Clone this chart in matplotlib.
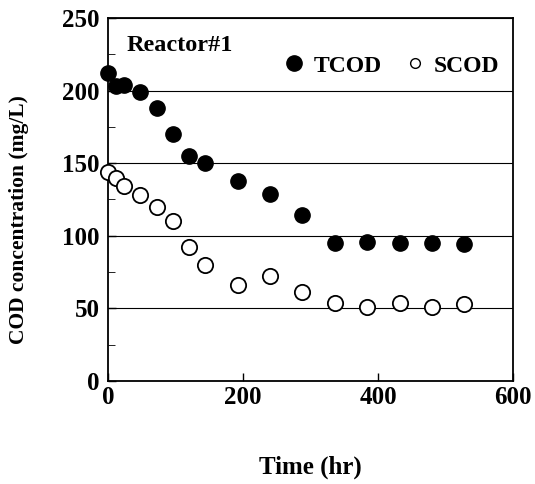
import matplotlib
matplotlib.use("Agg")
import matplotlib.pyplot as plt
from matplotlib.ticker import MultipleLocator

plt.rcParams['font.family'] = ['Liberation Serif', 'DejaVu Serif']
plt.rcParams['font.weight'] = 'bold'

# sampling times (hr)
time_hr = [0, 12, 24, 48, 72, 96, 120, 144, 192, 240, 288, 336, 384, 432, 480, 528]
# total COD (mg/L)
tcod = [212, 203, 204, 199, 188, 170, 155, 150, 138, 129, 114, 95, 96, 95, 95, 94]
# soluble COD (mg/L)
scod = [144, 140, 134, 128, 120, 110, 92, 80, 66, 72, 61, 54, 51, 54, 51, 53]

fig = plt.figure(figsize=(5.35, 4.84), dpi=100)
ax = fig.add_axes([0.202, 0.213, 0.757, 0.750])

ax.plot(time_hr, tcod, 'o', color='black', markersize=11, label='TCOD',
        zorder=3, clip_on=False)
ax.plot(time_hr, scod, 'o', markerfacecolor='white', markeredgecolor='black',
        markeredgewidth=1.3, markersize=11, label='SCOD', zorder=3, clip_on=False)

ax.set_xlim(0, 600)
ax.set_ylim(0, 250)
ax.xaxis.set_major_locator(MultipleLocator(200))
ax.yaxis.set_major_locator(MultipleLocator(50))
ax.yaxis.set_minor_locator(MultipleLocator(25))
ax.tick_params(direction='in', length=6, width=1, labelsize=18)
ax.tick_params(axis='y', which='minor', direction='in', length=5)
ax.tick_params(axis='x', pad=4)
ax.tick_params(axis='y', pad=6)
for lab in ax.get_xticklabels() + ax.get_yticklabels():
    lab.set_fontweight('bold')

ax.grid(axis='y', color='black', linewidth=0.8)
for s in ax.spines.values():
    s.set_linewidth(1.3)

ax.set_xlabel('Time (hr)', fontsize=18, fontweight='bold')
ax.set_ylabel('COD concentration (mg/L)', fontsize=15.5, fontweight='bold')
ax.xaxis.set_label_coords(0.5, -0.205)
ax.yaxis.set_label_coords(-0.195, 0.445)

ax.text(0.045, 0.925, 'Reactor#1', transform=ax.transAxes, fontsize=17.5,
        fontweight='bold', va='center', ha='left')

leg = ax.legend(loc='center right', bbox_to_anchor=(1.0, 0.868), ncol=2, frameon=False,
                fontsize=17, handletextpad=0.35, columnspacing=0.95,
                borderaxespad=0.2, handlelength=0.9)
for t in leg.get_texts():
    t.set_fontweight('bold')
leg.legend_handles[1].set_markersize(7)
leg.legend_handles[1].set_markeredgewidth(1.0)

fig.savefig('out.png', dpi=100)
